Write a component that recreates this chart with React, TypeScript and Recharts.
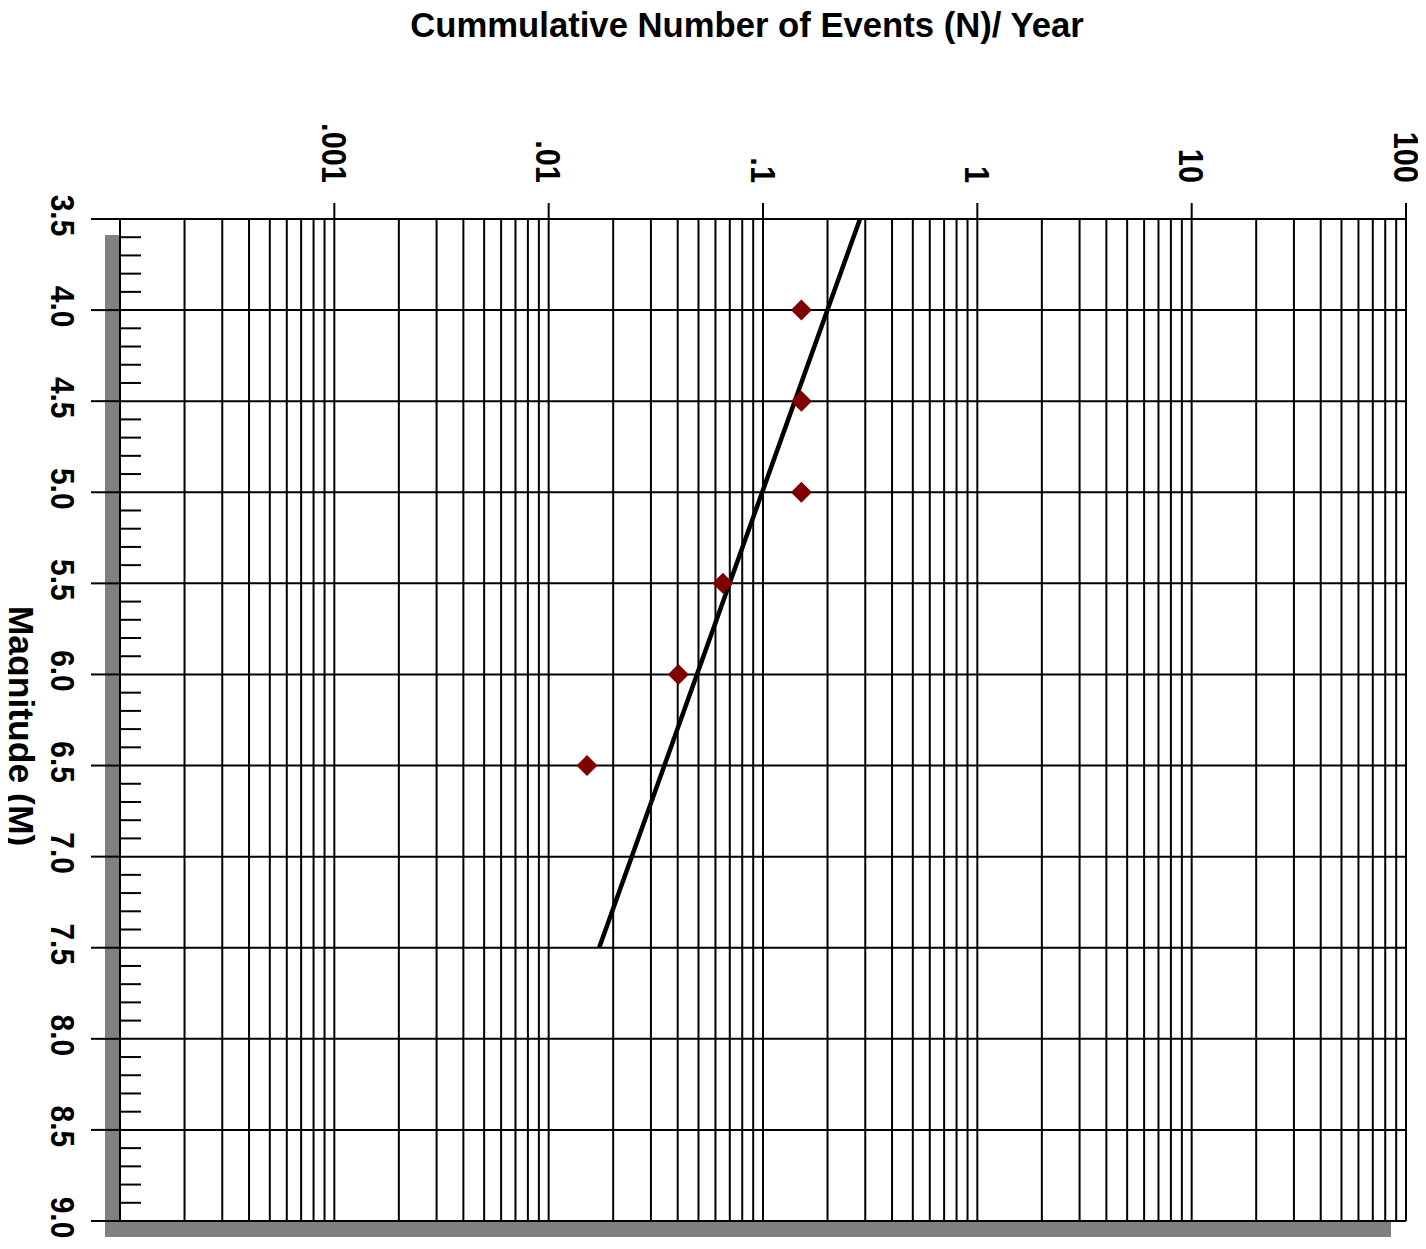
import React from 'react';
import {
  ComposedChart,
  XAxis,
  YAxis,
  Scatter,
  ReferenceLine,
  ReferenceArea,
} from 'recharts';

// ---- data ----
const decades = [0.0001, 0.001, 0.01, 0.1, 1, 10];
const xMajorTicks = [0.001, 0.01, 0.1, 1, 10, 100];
const xTickLabels = ['.001', '.01', '.1', '1', '10', '100'];
const yMajorTicks = [3.5, 4.0, 4.5, 5.0, 5.5, 6.0, 6.5, 7.0, 7.5, 8.0, 8.5, 9.0];
const yTickLabels = ['3.5', '4.0', '4.5', '5.0', '5.5', '6.0', '6.5', '7.0', '7.5', '8.0', '8.5', '9.0'];

// observed cumulative rates
const observedN = [0.151, 0.151, 0.151, 0.065, 0.0403, 0.0151];
const observedM = [4.0, 4.5, 5.0, 5.5, 6.0, 6.5];

// fitted Gutenberg-Richter line end points
const fitN = [0.2835, 0.0172];
const fitM = [3.5, 7.5];

const observed = observedN.map((n, i) => ({ n, m: observedM[i] }));
const fitSegment = fitN.map((n, i) => ({ x: n, y: fitM[i] }));

// minor gridlines (1..9 per decade) and all 0.1 magnitude ticks
const xMinor: number[] = [];
decades.forEach((d) => {
  for (let k = 1; k <= 9; k++) xMinor.push(+(k * d).toPrecision(3));
});
xMinor.push(100);
const yAllTicks: number[] = [];
for (let i = 35; i <= 90; i++) yAllTicks.push(i / 10);

const FONT = '"Liberation Sans", Arial, Helvetica, sans-serif';
const GRID = '#000000';
const GW = 2;
const Y_MAJOR_TICK = 29;
const Y_MINOR_TICK = 21;
const Y_TICK_MARGIN = 16;

const XTick = (props: any) => {
  const { x, y, payload } = props;
  const idx = xMajorTicks.indexOf(payload.value);
  const label = idx >= 0 ? xTickLabels[idx] : String(payload.value);
  return (
    <text
      transform={`translate(${x},${y}) rotate(90) scale(0.88,1)`}
      x={0}
      y={0}
      textAnchor="end"
      dominantBaseline="central"
      fontFamily={FONT}
      fontWeight="bold"
      fontSize={35}
      fill="#000"
    >
      {label}
    </text>
  );
};

const YTick = (props: any) => {
  const { x, y, payload } = props;
  const v = Math.round(payload.value * 10) / 10;
  const idx = yMajorTicks.indexOf(v);
  const axisX = x + Y_TICK_MARGIN + Y_MAJOR_TICK;
  if (idx < 0) {
    return (
      <line x1={axisX} x2={axisX + Y_MINOR_TICK} y1={y} y2={y} stroke={GRID} strokeWidth={GW} />
    );
  }
  const cx = x - 12;
  const cy = y - 3.5;
  return (
    <g>
      <line x1={axisX - Y_MAJOR_TICK} x2={axisX} y1={y} y2={y} stroke={GRID} strokeWidth={GW} />
      <text
        transform={`translate(${cx},${cy}) rotate(90) scale(0.88,1)`}
        x={0}
        y={0}
        textAnchor="middle"
        dominantBaseline="central"
        fontFamily={FONT}
        fontWeight="bold"
        fontSize={34}
        fill="#000"
      >
        {yTickLabels[idx]}
      </text>
    </g>
  );
};

const Diamond = (props: any) => {
  const { cx, cy } = props;
  const r = 10.5;
  return (
    <polygon
      points={`${cx},${cy - r} ${cx + r},${cy} ${cx},${cy + r} ${cx - r},${cy}`}
      fill="#800000"
    />
  );
};

const Shadow = (props: any) => {
  const { x, y, width, height } = props;
  return (
    <g>
      <rect x={x - 15} y={y + 16} width={15} height={height} fill="#808080" />
      <rect x={x - 15} y={y + height} width={width} height={16} fill="#808080" />
    </g>
  );
};

const TitleLabel = (props: any) => {
  const vb = props.viewBox || { x: 0, y: 0, width: 0 };
  return (
    <text
      transform={`translate(${vb.x + vb.width / 2 - 16},${vb.y + 37}) scale(0.963,1)`}
      x={0}
      y={0}
      textAnchor="middle"
      fontFamily={FONT}
      fontWeight="bold"
      fontSize={36}
      fill="#000"
    >
      Cummulative Number of Events (N)/ Year
    </text>
  );
};

const YTitleLabel = (props: any) => {
  const vb = props.viewBox || { x: 0, y: 0, height: 0 };
  const cx = vb.x + 21;
  const cy = vb.y + vb.height / 2 + 6;
  return (
    <text
      transform={`translate(${cx},${cy}) rotate(90)`}
      x={0}
      y={0}
      textAnchor="middle"
      dominantBaseline="central"
      fontFamily={FONT}
      fontWeight="bold"
      fontSize={35.5}
      fill="#000"
    >
      Magnitude (M)
    </text>
  );
};

export default function App() {
  return (
    <div style={{ width: 1426, height: 1249, marginLeft: -8, marginTop: -8 }}>
      <ComposedChart
        width={1426}
        height={1249}
        margin={{ top: 0, right: 20, bottom: 28, left: 0 }}
      >
        <ReferenceArea
          x1={0.0001}
          x2={100}
          y1={3.5}
          y2={9.0}
          ifOverflow="visible"
          shape={(p: any) => <Shadow {...p} />}
        />
        {yMajorTicks.map((v) => (
          <ReferenceLine key={'yh' + v} y={v} stroke={GRID} strokeWidth={GW} ifOverflow="visible" />
        ))}
        {xMinor.map((v) => (
          <ReferenceLine key={'xv' + v} x={v} stroke={GRID} strokeWidth={GW} ifOverflow="visible" />
        ))}
        <XAxis
          dataKey="n"
          type="number"
          scale="log"
          domain={[0.0001, 100]}
          allowDataOverflow
          orientation="top"
          ticks={xMajorTicks}
          interval={0}
          height={219}
          tickSize={16}
          tickMargin={20}
          tickLine={{ stroke: GRID, strokeWidth: GW }}
          axisLine={{ stroke: GRID, strokeWidth: GW }}
          tick={<XTick />}
          label={<TitleLabel />}
        />
        <YAxis
          dataKey="m"
          type="number"
          domain={[3.5, 9.0]}
          allowDataOverflow
          reversed
          ticks={yAllTicks}
          interval={0}
          width={120}
          tickSize={Y_MAJOR_TICK}
          tickMargin={Y_TICK_MARGIN}
          tickLine={false}
          axisLine={{ stroke: GRID, strokeWidth: GW }}
          tick={<YTick />}
          label={<YTitleLabel />}
        />
        <ReferenceLine
          segment={fitSegment}
          stroke="#000"
          strokeWidth={4.5}
          ifOverflow="visible"
        />
        <Scatter
          data={observed}
          dataKey="m"
          shape={<Diamond />}
          isAnimationActive={false}
        />
      </ComposedChart>
    </div>
  );
}
